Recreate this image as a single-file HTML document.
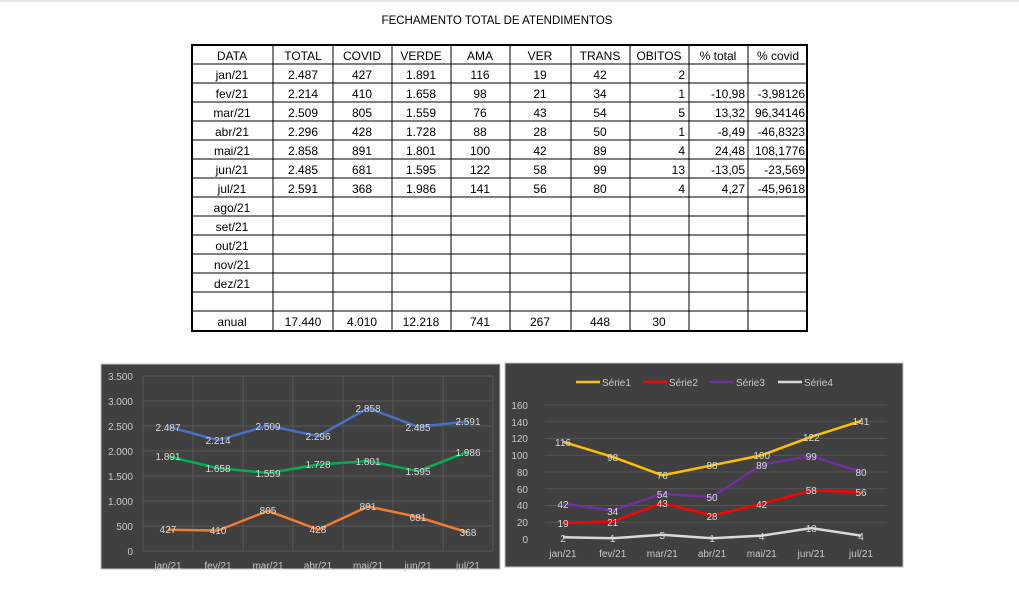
<!DOCTYPE html>
<html><head><meta charset="utf-8"><style>
html,body{margin:0;padding:0;background:#fff;width:1019px;height:600px;overflow:hidden}
svg{display:block;font-family:"Liberation Sans",Arial,sans-serif}
</style></head><body>
<svg width="1019" height="600" viewBox="0 0 1019 600" xmlns="http://www.w3.org/2000/svg">
<rect x="0" y="0" width="1019" height="2" fill="#e6e6e6"/>
<text x="497" y="24" font-size="11.5" text-anchor="middle" fill="#000">FECHAMENTO TOTAL DE ATENDIMENTOS</text>
<!-- table grid -->
<g stroke="#000" stroke-width="1" fill="none">
<line x1="192" y1="64" x2="807" y2="64"/><line x1="192" y1="83" x2="807" y2="83"/><line x1="192" y1="102" x2="807" y2="102"/><line x1="192" y1="121" x2="807" y2="121"/><line x1="192" y1="140" x2="807" y2="140"/><line x1="192" y1="159" x2="807" y2="159"/><line x1="192" y1="178" x2="807" y2="178"/><line x1="192" y1="197" x2="807" y2="197"/><line x1="192" y1="216" x2="807" y2="216"/><line x1="192" y1="235" x2="807" y2="235"/><line x1="192" y1="254" x2="807" y2="254"/><line x1="192" y1="273" x2="807" y2="273"/><line x1="192" y1="292" x2="807" y2="292"/><line x1="192" y1="311" x2="807" y2="311"/>
<line x1="273" y1="45" x2="273" y2="331"/><line x1="333" y1="45" x2="333" y2="331"/><line x1="392" y1="45" x2="392" y2="331"/><line x1="451" y1="45" x2="451" y2="331"/><line x1="510" y1="45" x2="510" y2="331"/><line x1="571" y1="45" x2="571" y2="331"/><line x1="630" y1="45" x2="630" y2="331"/><line x1="689" y1="45" x2="689" y2="331"/><line x1="748" y1="45" x2="748" y2="331"/>
<rect x="192" y="45" width="615" height="286" stroke-width="2"/>
</g>
<g font-size="12" fill="#000" text-anchor="middle">
<text x="232" y="60">DATA</text><text x="303" y="60">TOTAL</text><text x="362" y="60">COVID</text><text x="421" y="60">VERDE</text><text x="480" y="60">AMA</text><text x="540" y="60">VER</text><text x="600" y="60">TRANS</text><text x="659" y="60">OBITOS</text><text x="718" y="60">% total</text><text x="778" y="60">% covid</text>
<text x="232" y="79">jan/21</text><text x="303" y="79">2.487</text><text x="362" y="79">427</text><text x="421" y="79">1.891</text><text x="480" y="79">116</text><text x="540" y="79">19</text><text x="600" y="79">42</text>
<text x="232" y="98">fev/21</text><text x="303" y="98">2.214</text><text x="362" y="98">410</text><text x="421" y="98">1.658</text><text x="480" y="98">98</text><text x="540" y="98">21</text><text x="600" y="98">34</text>
<text x="232" y="117">mar/21</text><text x="303" y="117">2.509</text><text x="362" y="117">805</text><text x="421" y="117">1.559</text><text x="480" y="117">76</text><text x="540" y="117">43</text><text x="600" y="117">54</text>
<text x="232" y="136">abr/21</text><text x="303" y="136">2.296</text><text x="362" y="136">428</text><text x="421" y="136">1.728</text><text x="480" y="136">88</text><text x="540" y="136">28</text><text x="600" y="136">50</text>
<text x="232" y="155">mai/21</text><text x="303" y="155">2.858</text><text x="362" y="155">891</text><text x="421" y="155">1.801</text><text x="480" y="155">100</text><text x="540" y="155">42</text><text x="600" y="155">89</text>
<text x="232" y="174">jun/21</text><text x="303" y="174">2.485</text><text x="362" y="174">681</text><text x="421" y="174">1.595</text><text x="480" y="174">122</text><text x="540" y="174">58</text><text x="600" y="174">99</text>
<text x="232" y="193">jul/21</text><text x="303" y="193">2.591</text><text x="362" y="193">368</text><text x="421" y="193">1.986</text><text x="480" y="193">141</text><text x="540" y="193">56</text><text x="600" y="193">80</text>
<text x="232" y="212">ago/21</text><text x="232" y="231">set/21</text><text x="232" y="250">out/21</text><text x="232" y="269">nov/21</text><text x="232" y="288">dez/21</text>
<text x="232" y="326">anual</text><text x="303" y="326">17.440</text><text x="362" y="326">4.010</text><text x="421" y="326">12.218</text><text x="480" y="326">741</text><text x="540" y="326">267</text><text x="600" y="326">448</text><text x="659" y="326">30</text>
</g>
<g font-size="12" fill="#000" text-anchor="end">
<text x="685" y="79">2</text>
<text x="685" y="98">1</text><text x="745" y="98">-10,98</text><text x="805" y="98">-3,98126</text>
<text x="685" y="117">5</text><text x="745" y="117">13,32</text><text x="805" y="117">96,34146</text>
<text x="685" y="136">1</text><text x="745" y="136">-8,49</text><text x="805" y="136">-46,8323</text>
<text x="685" y="155">4</text><text x="745" y="155">24,48</text><text x="805" y="155">108,1776</text>
<text x="685" y="174">13</text><text x="745" y="174">-13,05</text><text x="805" y="174">-23,569</text>
<text x="685" y="193">4</text><text x="745" y="193">4,27</text><text x="805" y="193">-45,9618</text>
</g>

<!-- LEFT CHART -->
<rect x="101" y="364" width="399" height="205" fill="#404040" stroke="#bfbfbf" stroke-width="1"/>
<g stroke="#585858" stroke-width="1">
<line x1="143" y1="376" x2="493" y2="376"/><line x1="143" y1="401" x2="493" y2="401"/><line x1="143" y1="426" x2="493" y2="426"/><line x1="143" y1="451" x2="493" y2="451"/><line x1="143" y1="476" x2="493" y2="476"/><line x1="143" y1="501" x2="493" y2="501"/><line x1="143" y1="526" x2="493" y2="526"/><line x1="143" y1="551" x2="493" y2="551"/>
<line x1="143" y1="376" x2="143" y2="551"/><line x1="193" y1="376" x2="193" y2="551"/><line x1="243" y1="376" x2="243" y2="551"/><line x1="293" y1="376" x2="293" y2="551"/><line x1="343" y1="376" x2="343" y2="551"/><line x1="393" y1="376" x2="393" y2="551"/><line x1="443" y1="376" x2="443" y2="551"/><line x1="493" y1="376" x2="493" y2="551"/>
</g>
<g font-size="10" fill="#c8c8c8" text-anchor="end">
<text x="133" y="380">3.500</text><text x="133" y="405">3.000</text><text x="133" y="430">2.500</text><text x="133" y="455">2.000</text><text x="133" y="480">1.500</text><text x="133" y="505">1.000</text><text x="133" y="530">500</text><text x="133" y="555">0</text>
</g>
<g font-size="10" fill="#c8c8c8" text-anchor="middle">
<text x="168" y="569">jan/21</text><text x="218" y="569">fev/21</text><text x="268" y="569">mar/21</text><text x="318" y="569">abr/21</text><text x="368" y="569">mai/21</text><text x="418" y="569">jun/21</text><text x="468" y="569">jul/21</text>
</g>
<g fill="none" stroke-width="2.5" stroke-linejoin="round">
<polyline stroke="#4472C4" points="168,426.6 218,440.3 268,425.5 318,436.2 368,408.1 418,426.8 468,421.5"/>
<polyline stroke="#00B050" points="168,456.5 218,468.1 268,473 318,464.6 368,461 418,471.2 468,451.7"/>
<polyline stroke="#ED7D31" points="168,529.7 218,530.5 268,510.8 318,529.6 368,506.5 418,517 468,532.6"/>
</g>
<g font-size="10" fill="#d9d9d9" text-anchor="middle">
<text x="168" y="431">2.487</text><text x="218" y="444">2.214</text><text x="268" y="430">2.509</text><text x="318" y="440">2.296</text><text x="368" y="412">2.858</text><text x="418" y="431">2.485</text><text x="468" y="425">2.591</text>
<text x="168" y="460">1.891</text><text x="218" y="472">1.658</text><text x="268" y="477">1.559</text><text x="318" y="468">1.728</text><text x="368" y="465">1.801</text><text x="418" y="475">1.595</text><text x="468" y="456">1.986</text>
<text x="168" y="533">427</text><text x="218" y="534">410</text><text x="268" y="514">805</text><text x="318" y="533">428</text><text x="368" y="510">891</text><text x="418" y="521">681</text><text x="468" y="536">368</text>
</g>

<!-- RIGHT CHART -->
<rect x="505" y="363" width="398" height="204" fill="#404040" stroke="#bfbfbf" stroke-width="1"/>
<g stroke="#555" stroke-width="1">
<line x1="545" y1="405" x2="887" y2="405"/><line x1="545" y1="421.75" x2="887" y2="421.75"/><line x1="545" y1="438.5" x2="887" y2="438.5"/><line x1="545" y1="455.25" x2="887" y2="455.25"/><line x1="545" y1="472" x2="887" y2="472"/><line x1="545" y1="488.75" x2="887" y2="488.75"/><line x1="545" y1="505.5" x2="887" y2="505.5"/><line x1="545" y1="522.25" x2="887" y2="522.25"/>
</g>
<g font-size="10" fill="#c8c8c8" text-anchor="end">
<text x="528" y="409">160</text><text x="528" y="426">140</text><text x="528" y="442">120</text><text x="528" y="459">100</text><text x="528" y="476">80</text><text x="528" y="493">60</text><text x="528" y="509">40</text><text x="528" y="526">20</text><text x="528" y="543">0</text>
</g>
<g font-size="10" fill="#c8c8c8" text-anchor="middle">
<text x="563" y="557">jan/21</text><text x="612.7" y="557">fev/21</text><text x="662.3" y="557">mar/21</text><text x="712" y="557">abr/21</text><text x="761.7" y="557">mai/21</text><text x="811.3" y="557">jun/21</text><text x="861" y="557">jul/21</text>
</g>
<g stroke-width="2.5">
<line x1="576" y1="382" x2="600" y2="382" stroke="#FFC000"/><line x1="643" y1="382" x2="667" y2="382" stroke="#FF0000"/><line x1="710" y1="382" x2="733" y2="382" stroke="#7030A0"/><line x1="778" y1="382" x2="802" y2="382" stroke="#D9D9D9"/>
</g>
<g font-size="10" fill="#c8c8c8">
<text x="602" y="386">Série1</text><text x="669" y="386">Série2</text><text x="736" y="386">Série3</text><text x="804" y="386">Série4</text>
</g>
<g fill="none" stroke-width="2.5" stroke-linejoin="round">
<polyline stroke="#FFC000" points="563,441.85 612.7,456.9 662.3,475.35 712,465.3 761.7,455.25 811.3,436.8 861,420.9"/>
<polyline stroke="#7030A0" points="563,503.8 612.7,510.5 662.3,493.8 712,497.1 761.7,464.5 811.3,456.1 861,472"/>
<polyline stroke="#FF0000" points="563,523.1 612.7,521.4 662.3,503 712,515.55 761.7,503.8 811.3,490.4 861,492.1"/>
<polyline stroke="#D9D9D9" points="563,537.3 612.7,538.2 662.3,534.8 712,538.2 761.7,535.65 811.3,528.1 861,535.65"/>
</g>
<g font-size="10" fill="#d9d9d9" text-anchor="middle">
<text x="563" y="446">116</text><text x="612.7" y="461">98</text><text x="662.3" y="479">76</text><text x="712" y="469">88</text><text x="761.7" y="459">100</text><text x="811.3" y="441">122</text><text x="861" y="425">141</text>
<text x="563" y="508">42</text><text x="612.7" y="515">34</text><text x="662.3" y="498">54</text><text x="712" y="501">50</text><text x="761.7" y="469">89</text><text x="811.3" y="460">99</text><text x="861" y="476">80</text>
<text x="563" y="527">19</text><text x="612.7" y="526">21</text><text x="662.3" y="507">43</text><text x="712" y="520">28</text><text x="761.7" y="508">42</text><text x="811.3" y="494">58</text><text x="861" y="496">56</text>
<text x="563" y="542">2</text><text x="612.7" y="542">1</text><text x="662.3" y="539">5</text><text x="712" y="542">1</text><text x="761.7" y="540">4</text><text x="811.3" y="532">13</text><text x="861" y="540">4</text>
</g>
</svg>
</body></html>
